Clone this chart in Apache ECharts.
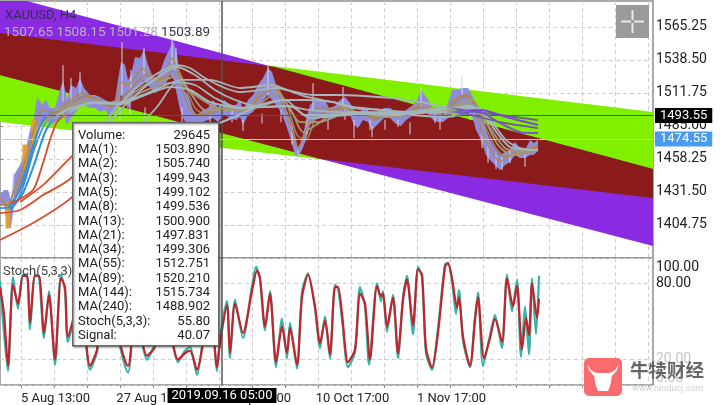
<!DOCTYPE html>
<html><head><meta charset="utf-8">
<style>html,body{margin:0;padding:0;background:#fff}#c{width:720px;height:405px}</style>
<script src="https://cdn.jsdelivr.net/npm/echarts@6/dist/echarts.min.js"></script>
</head><body><div id="c"></div>
<script>
const priceTicks=[1404.75,1431.5,1458.25,1485,1511.75,1538.5,1565.25];
const stochTicks=[0,20,80,100];
const gridBars=[21,54,87,120,153,186,219,252,285,318,351,384,417,450,483,516,549,582,615,648];
const timeBars=[54,153,252,351,450];
const timeLabels=['5 Aug 13:00','27 Aug 13:00','18 Sep 17:00','10 Oct 17:00','1 Nov 17:00'];
const cursorBar=222, cursorPrice=1493.55, lastPrice=1474.55, cursorTime='2019.09.16 05:00';

const purpleChannel=[[0,1586.3],[27,1586.3],[653,1450.1],[653,1387.7],[0,1526.3]];
const greenChannel=[[0,1560.3],[653,1496.3],[653,1426.6],[0,1488.2]];
const overlapChannel=[[0,1560.3],[274,1533.1],[653,1450.1],[653,1426.6],[321,1458.2],[0,1526.3]];

const priceBars=[0,4,8,11,14,20,26,30,34,37,42,46,50,55,60,63,67,71,76,80,84,90,95,100,105,110,115,118,121,125,128,131,135,140,144,148,152,156,160,165,170,173,177,180,184,188,193,197,203,208,213,218,224,230,236,240,243,248,253,258,263,268,272,276,281,286,291,295,298,302,306,310,315,320,325,329,335,340,345,350,354,358,363,368,372,378,384,390,396,401,406,412,417,421,427,433,438,443,448,452,456,462,468,472,476,481,486,490,495,500,505,510,515,520,525,530,534,538];
const priceHigh=[1429,1433.1,1433.1,1425,1445.2,1453.4,1467.1,1481.7,1491.4,1508.5,1502,1506.1,1499.6,1499.6,1514.2,1522.3,1506.1,1518.2,1515.8,1523.9,1515.8,1510.1,1510.1,1508.5,1506.1,1504.4,1506.1,1522.3,1536.8,1534.4,1522.3,1526.3,1540.9,1540.1,1546.6,1534.4,1526.3,1523.9,1528.7,1540.1,1548.2,1554.7,1542.5,1526.3,1514.2,1510.1,1497.9,1493.9,1497.9,1499.6,1506.1,1499.6,1506.1,1502,1502,1506.1,1497.9,1506.1,1510.1,1518.2,1523.9,1532,1528.7,1518.2,1512.5,1499.6,1489.8,1477.7,1467.1,1473.6,1489.8,1502,1506.1,1506.1,1506.1,1499.6,1501.2,1506.1,1508.5,1503.6,1497.9,1493.9,1499.6,1497.9,1491.4,1496.3,1499.6,1499.6,1496.3,1495.5,1497.9,1501.2,1506.1,1514.2,1507.7,1499.6,1499.6,1493.9,1503.6,1514.2,1514.2,1515.8,1515.8,1510.1,1502,1493.9,1481.7,1473.6,1467.1,1461.5,1463.9,1465.5,1472,1467.1,1465.5,1473.6,1471.2,1473.6];
const priceLow=[1420.9,1420.9,1402.3,1402.3,1420.9,1433.1,1441.2,1453.4,1465.5,1481.7,1489.8,1491.4,1485.8,1488.2,1491.4,1496.3,1485.8,1491.4,1496.3,1502,1502,1499.6,1499.6,1496.3,1497.9,1492.3,1496.3,1499.6,1510.1,1506.1,1497.9,1506.1,1514.2,1518.2,1522.3,1518.2,1514.2,1511.7,1518.2,1518.2,1526.3,1523.9,1510.1,1497.9,1489.8,1485.8,1485.8,1485.8,1488.2,1489.8,1491.4,1488.2,1493.9,1491.4,1489.8,1492.3,1485.8,1493.9,1496.3,1502,1506.1,1510.1,1506.1,1502,1496.3,1485.8,1473.6,1461.5,1459.8,1465.5,1473.6,1485.8,1489.8,1491.4,1493.9,1489.8,1491.4,1496.3,1497.9,1493.9,1485.8,1483.3,1489.8,1488.2,1481.7,1486.6,1491.4,1491.4,1486.6,1485,1489.8,1493.1,1495.5,1496.3,1496.3,1489.8,1488.2,1488.2,1491.4,1497.9,1499.6,1501.2,1502.8,1493.9,1481.7,1473.6,1461.5,1457.4,1453.4,1449.3,1453.4,1455.8,1461.5,1459,1459,1461.5,1461.5,1465.5];
const wickBars=[13,63,71,80,122,131,144,172,176,268,313,343,421,462,120,130,145,182,298,354,370,398,435,482,502,210,232,243,262,281,292,307,328,345,372,385,410,440,470,488,496,510,525];
const wickHigh=[1447.7,1534.4,1523.9,1528.7,1553.1,1530.4,1548.2,1556.3,1548.2,1534.4,1519.8,1516.6,1516.6,1526.3,1500,1505,1500,1500,1465.5,1490,1490,1490,1495,1480,1460,1495,1498,1490,1495,1498,1485,1490,1490,1500,1485,1490,1488,1492,1498,1470,1462,1465,1462];
const wickLow=[1425,1505,1505,1510,1510,1515,1525,1535,1530,1510,1498,1500,1500,1510,1490,1494,1492,1480,1457.4,1475.2,1481.7,1484.2,1487.4,1467.1,1449.3,1485,1488,1481,1487,1488,1470,1478,1482,1490,1476,1482,1478,1482,1490,1455,1450,1455,1452];
const upCandleBars=[8,25,34];
const upCandleHigh=[1423,1470,1490];
const upCandleLow=[1402,1450,1468];

const ma3Bars=[0,8,14,22,30,36,42,50,60,68,75,82,90,100,110,116,122,128,135,142,150,158,165,172,178,185,195,205,215,225,235,245,255,265,273,283,292,298,306,315,325,335,345,355,365,375,385,395,405,415,425,435,445,452,460,468,476,484,492,500,510,520,530,538];
const ma3=[1426.6,1420.9,1433.1,1449.3,1469.6,1488.2,1497.9,1496.3,1499.6,1504.4,1508.5,1511.7,1508.5,1504.4,1500.4,1506.1,1520.6,1518.2,1523.9,1532,1526.3,1520.6,1528.7,1540.1,1528.7,1507.7,1493.9,1493.9,1499.6,1499.6,1497.9,1496.3,1506.1,1518.2,1518.2,1502,1481.7,1467.1,1481.7,1497.9,1500.4,1496.3,1502.8,1493.9,1495.5,1489.8,1495.5,1493.1,1493.9,1500.4,1503.6,1496.3,1493.1,1504.4,1509.3,1510.1,1496.3,1475.2,1463.9,1455.8,1461.5,1464.7,1467.1,1469.6];
const ma8Bars=[0,10,18,28,38,48,60,72,85,100,112,122,132,145,155,165,175,185,195,207,220,235,250,262,275,287,297,306,316,330,345,360,375,390,405,420,435,447,456,466,476,486,496,506,520,538];
const ma8=[1420.9,1420.9,1433.1,1457.4,1481.7,1493.1,1497.9,1503.6,1509.3,1506.1,1501.2,1507.7,1515.8,1526.3,1523.9,1523.9,1534.4,1518.2,1499.6,1493.9,1497.9,1497.9,1499.6,1510.1,1515.8,1502,1477.7,1473.6,1491.4,1497.9,1499.6,1495.5,1491.4,1494.7,1493.9,1500.4,1497.9,1496.3,1504.4,1509.3,1502,1483.3,1467.1,1459.8,1463.1,1467.9];
const ma13Bars=[0,12,22,34,46,60,75,90,105,120,135,150,165,178,190,205,225,245,262,277,292,303,316,335,355,375,395,415,432,447,460,472,484,498,512,538];
const ma13=[1418.5,1419.3,1433.1,1465.5,1488.2,1496.3,1502,1506.9,1504.4,1503.6,1512.5,1520.6,1522.3,1526.3,1512.5,1497.9,1497.9,1497.9,1504.4,1512.5,1496.3,1480.1,1485.8,1495.5,1496.3,1493.1,1493.9,1497.1,1499.6,1497.9,1503.6,1506.1,1491.4,1469.6,1461.5,1465.5];
const ma21Bars=[8,20,32,42,52,65,80,100,120,140,160,178,195,215,240,262,282,300,320,345,375,400,425,450,470,488,505,522,538];
const ma21=[1418.5,1433.1,1465.5,1488.2,1496.3,1500.4,1504.4,1504.4,1502,1511.7,1518.2,1520.6,1510.1,1500.4,1497.9,1501.2,1506.1,1488.2,1488.2,1495.5,1493.9,1493.9,1497.9,1499.6,1503.6,1485.8,1467.1,1463.9,1465.5];
const ma34Bars=[10,22,34,46,58,75,95,120,145,170,190,210,240,265,290,310,335,365,395,425,455,478,495,510,538];
const ma34=[1416.9,1429,1453.4,1481.7,1493.9,1500.4,1503.6,1502.8,1510.1,1516.6,1514.2,1504.4,1499.6,1500.4,1501.2,1491.4,1493.1,1494.7,1493.9,1496.3,1499.6,1499.6,1481.7,1467.9,1465.5];
const ma55Bars=[12,33,43,57,77,93,115,135,155,175,195,215,240,265,285,305,330,360,395,425,450,470,490,506,520,538];
const ma55=[1422.5,1433.1,1455,1488.2,1499.6,1504.4,1503.6,1507.7,1514.2,1520.6,1518.2,1507.7,1499.6,1502.8,1506.1,1493.9,1493.9,1495.5,1495.5,1497.9,1499.6,1501.2,1489.8,1473.6,1467.1,1465.5];
const ma89Bars=[20,43,70,113,127,150,177,195,215,235,260,285,310,340,375,410,445,475,500,520,538];
const ma89=[1423.4,1437.1,1459,1491.4,1503.6,1519.8,1532.8,1526.3,1514.2,1506.1,1500.4,1501.2,1497.9,1496.3,1496.3,1495.5,1496.3,1497.9,1487.4,1480.1,1479.3];
const ma144Bars=[0,20,43,72,107,120,147,177,190,205,225,240,260,277,290,307,333,353,373,410,440,463,500,538];
const ma144=[1414.4,1416.9,1429,1443.6,1489.8,1503.6,1522.3,1534.4,1532,1523.9,1515.8,1512.5,1514.2,1515.8,1513.3,1508.5,1504.4,1500.4,1498.7,1496.3,1496.3,1495.5,1488.2,1483.3];
const ma240Bars=[0,33,72,145,157,180,210,240,273,287,313,340,390,420,440,463,500,538];
const ma240=[1392.6,1406.3,1427.4,1489.8,1500.4,1522.3,1522.3,1515.8,1518.2,1514.2,1510.1,1510.1,1507.7,1504.4,1501.2,1497.9,1493.9,1489.8];
const maSlowBars=[215,243,260,283,307,333,353,383,413,447,480,510,538];
const maSlow=[1485.8,1495.5,1502,1506.1,1506.1,1504.4,1499.6,1497.9,1493.9,1492.3,1497.9,1491.4,1485.8];

const stochBars=[0,3,8,13,18,23,27,30,35,39,44,49,55,61,65,68,80,90,97,105,128,135,147,155,165,178,185,190,197,203,210,217,220,227,230,235,243,252,256,260,265,270,276,282,287,290,297,302,308,315,320,325,330,335,338,342,348,355,360,365,369,377,381,383,387,393,398,403,407,413,418,422,426,432,438,445,448,452,456,459,463,470,475,478,483,490,495,502,507,512,517,521,525,529,532,536,539];
const stoch=[82,50,11,85,60,87,87,44,87,85,37,74,16,87,74,34,72,12,26,72,10,65,20,33,65,18,27,30,8,36,75,11,37,66,21,67,37,78,93,84,43,74,14,52,21,49,13,73,88,60,29,54,21,79,76,52,14,26,77,62,16,80,66,74,42,71,21,69,86,40,93,85,25,12,45,95,96,82,56,75,35,14,54,73,15,39,55,29,87,58,83,22,62,24,84,40,86];
const signalBars=[0,4,8,13,18,23,27,30,35,39,44,49,55,61,65,68,80,90,97,105,128,135,147,155,165,178,185,190,197,203,210,217,220,227,230,235,243,252,257,260,265,270,276,282,287,290,297,302,308,315,320,325,330,335,338,342,348,355,360,365,370,377,381,383,387,393,398,403,407,413,418,422,426,432,438,445,448,452,457,459,463,470,475,478,484,490,495,502,507,513,517,522,526,529,532,537,539];
const signal=[77,56,15,79,64,86,86,49,86,86,41,71,20,84,77,38,70,15,28,70,15,60,23,30,60,20,25,27,12,33,70,14,33,63,25,64,41,74,90,84,46,72,18,46,25,45,16,69,87,62,33,51,24,77,77,56,18,28,72,64,20,78,70,72,46,69,25,67,83,47,91,87,29,14,41,93,96,84,61,69,38,15,51,69,21,37,52,34,84,62,78,28,53,39,80,53,68];

const tipNames=['Volume:','MA(1):','MA(2):','MA(3):','MA(5):','MA(8):','MA(13):','MA(21):','MA(34):','MA(55):','MA(89):','MA(144):','MA(240):','Stoch(5,3,3):','Signal:'];
const tipValues=['29645','1503.890','1505.740','1499.943','1499.102','1499.536','1500.900','1497.831','1499.306','1512.751','1520.210','1515.734','1488.902','55.80','40.07'];

const FONT='Roboto, sans-serif';
const chart=echarts.init(document.getElementById('c'),null,{renderer:'canvas'});
const grad=(stops)=>new echarts.graphic.LinearGradient(0,0,653,0,
  stops.flatMap(([x,c])=>[{offset:x/653,color:c}]),true);
const colorSplit=(a,x,b,x2,c)=>{
  const s=[[0,a],[x,a],[x+12,b]];
  if(x2){s.push([x2,b],[x2+15,c]);}
  s.push([653,c||b]);
  return grad(s);
};
const BLUE='#2d8fdc',RED='#dc4a2c',GRAY='#a2b6bc',OLIVE='#a09a78',PUR='#6c55a8';
const polygon=(pts,fill,z)=>({type:'custom',coordinateSystem:'cartesian2d',xAxisIndex:0,yAxisIndex:0,z,silent:true,
  data:[pts[0]],clip:true,
  renderItem:(p,api)=>({type:'polygon',shape:{points:pts.map(v=>api.coord(v))},style:{fill}})});
const maLine=(bars,vals,color,w,z)=>({type:'line',xAxisIndex:0,yAxisIndex:0,showSymbol:false,symbol:'none',smooth:0.25,z:z||5,silent:true,
  lineStyle:{color,width:w},data:bars.map((b,i)=>[b,vals[i]])});
const vBars=(bars,hi,lo,stroke,lineWidth,z)=>({type:'custom',coordinateSystem:'cartesian2d',xAxisIndex:0,yAxisIndex:0,z,silent:true,
   data:bars.map((b,i)=>[b,hi[i],lo[i]]),encode:{x:0,y:[1,2]},
   renderItem:(p,api)=>{const a=api.coord([api.value(0),api.value(1)]),b=api.coord([api.value(0),api.value(2)]);
     return {type:'line',shape:{x1:a[0],y1:a[1],x2:b[0],y2:b[1]},style:{stroke,lineWidth}};}});
const bandPts=priceBars.map((b,i)=>[b,priceHigh[i]]).concat(priceBars.map((b,i)=>[b,priceLow[i]]).reverse());
const dashed={show:true,lineStyle:{color:'#cfcfcf',type:[4,3],width:1}};

const xBase=(gi,showLabels)=>({type:'value',gridIndex:gi,min:0,max:653,
  axisLine:{show:false},
  axisTick:{show:showLabels,length:3,lineStyle:{color:'#888'},customValues:gridBars},
  splitLine:dashed,
  axisLabel:showLabels?{show:true,customValues:timeBars,margin:7,color:'#222',fontFamily:FONT,fontSize:13,padding:[0,0,0,3],
    formatter:v=>timeLabels[timeBars.indexOf(v)]||''}:{show:false}});

const option={animation:false,backgroundColor:'#fff',
 grid:[{left:0,top:1,width:653,height:257,show:true,borderColor:'#8c8c8c',borderWidth:1.5,backgroundColor:'#fff'},
       {left:0,top:258,width:653,height:130,show:true,borderColor:'#8c8c8c',borderWidth:1.5,backgroundColor:'#fff'}],
 xAxis:[xBase(0,false),xBase(1,true)],
 yAxis:[{type:'value',gridIndex:0,position:'right',min:1378,max:1586.3,
   axisLine:{show:false},axisTick:{show:true,length:3,lineStyle:{color:'#888'},customValues:priceTicks},splitLine:dashed,
   axisLabel:{customValues:priceTicks,margin:3,color:'#222',fontFamily:FONT,fontSize:14,padding:[3,0,0,0],formatter:v=>v.toFixed(2)}},
  {type:'value',gridIndex:1,position:'right',min:0,max:100,
   axisLine:{show:false},axisTick:{show:false,customValues:stochTicks},splitLine:dashed,
   axisLabel:{customValues:stochTicks,margin:3,fontFamily:FONT,fontSize:14,padding:[2,0,0,0],showMinLabel:true,showMaxLabel:true,hideOverlap:false,formatter:v=>v.toFixed(2),
     color:v=>v<=20?'#c4c4c4':'#222',verticalAlignMinLabel:'bottom',verticalAlignMaxLabel:'top'}}],
 series:[
  polygon(greenChannel,'#80f000',1),
  polygon(purpleChannel,'#8a2be2',1),
  polygon(overlapChannel,'#8b1a1a',2),
  {type:'custom',coordinateSystem:'cartesian2d',xAxisIndex:0,yAxisIndex:0,z:3,silent:true,data:[bandPts[0]],
   renderItem:(p,api)=>({type:'polygon',shape:{points:bandPts.map(v=>api.coord(v))},style:{fill:'#8f8cdc'}})},
  vBars(wickBars,wickHigh,wickLow,'#d5d5e6',1,3),
  vBars(upCandleBars,upCandleHigh,upCandleLow,'#e0a030',5,3),
  maLine(ma3Bars,ma3,'#b08a45',1.5,4),
  maLine(ma8Bars,ma8,'#a8864a',1.5,4),
  maLine(ma13Bars,ma13,colorSplit(BLUE,38,OLIVE),1.8,4),
  maLine(ma21Bars,ma21,colorSplit(BLUE,44,OLIVE),1.8,5),
  maLine(ma34Bars,ma34,colorSplit(BLUE,48,GRAY),2,6),
  maLine(ma55Bars,ma55,colorSplit(RED,60,GRAY),1.8,6),
  maLine(ma240Bars,ma240,colorSplit(RED,90,GRAY,445,PUR),1.8,6),
  maLine(ma144Bars,ma144,colorSplit(RED,90,GRAY,445,PUR),1.8,6),
  maLine(ma89Bars,ma89,colorSplit(RED,85,GRAY,445,'#7d4fd0'),1.8,6),
  maLine(maSlowBars,maSlow,colorSplit(GRAY,440,GRAY,450,'#7a48d8'),2,6),
  {type:'line',xAxisIndex:0,yAxisIndex:0,data:[],z:8,silent:true,
   markLine:{silent:true,symbol:'none',animation:false,
    data:[
     {xAxis:cursorBar,lineStyle:{color:'#555',width:1.5,type:'solid'},label:{show:false}},
     {yAxis:lastPrice,lineStyle:{color:'#a9d4f5',width:1,type:'solid'},
      label:{show:true,position:'end',distance:2,formatter:lastPrice.toFixed(2),color:'#fff',backgroundColor:'#4a9bf0',fontFamily:FONT,fontSize:13,padding:[2,5,0,5]}},
     {yAxis:cursorPrice,lineStyle:{color:'#555',width:1,type:'solid'},
      label:{show:true,position:'end',distance:2,formatter:cursorPrice.toFixed(2),color:'#fff',backgroundColor:'#000',fontFamily:FONT,fontSize:13,padding:[2,5,0,5]}}
    ]}},
  {type:'line',xAxisIndex:1,yAxisIndex:1,showSymbol:false,symbol:'none',smooth:0.25,z:3,silent:true,
   lineStyle:{color:'#35b3a8',width:2.2},data:stochBars.map((b,i)=>[b,stoch[i]])},
  {type:'line',xAxisIndex:1,yAxisIndex:1,showSymbol:false,symbol:'none',smooth:0.25,z:4,silent:true,
   lineStyle:{color:'#c4232b',width:2.2},data:signalBars.map((b,i)=>[b,signal[i]])},
  {type:'line',xAxisIndex:1,yAxisIndex:1,data:[],z:8,silent:true,
   markLine:{silent:true,symbol:'none',animation:false,
    data:[{xAxis:cursorBar,lineStyle:{color:'#555',width:1.5,type:'solid'},
      label:{show:true,position:'start',distance:3,formatter:cursorTime,color:'#fff',backgroundColor:'#000',fontFamily:FONT,fontSize:13,padding:[1,4,1,4]}}]}}
 ],
 graphic:{elements:[
  {type:'text',z:50,left:5,top:9,style:{text:'XAUUSD, H4',fill:'#3a2a55',font:'13px '+FONT}},
  {type:'text',z:50,left:4,top:26,style:{text:'1507.65 1508.15 1501.28',fill:'#b9b2ba',font:'13.5px '+FONT}},
  {type:'text',z:50,left:161,top:26,style:{text:'1503.89',fill:'#3b3346',font:'13.5px '+FONT}},
  {type:'text',z:50,left:3,top:265,style:{text:'Stoch(5,3,3)',fill:'#444',font:'13px '+FONT}},
  {type:'group',z:60,left:616,top:5,children:[
    {type:'rect',z:60,shape:{x:0,y:0,width:33,height:33},style:{fill:'#9a9a9a'}},
    {type:'rect',z:61,shape:{x:5,y:15.5,width:10,height:2},style:{fill:'#e8e8e8'}},
    {type:'rect',z:61,shape:{x:18,y:15.5,width:10,height:2},style:{fill:'#e8e8e8'}},
    {type:'rect',z:61,shape:{x:15.5,y:5,width:2,height:10},style:{fill:'#e8e8e8'}},
    {type:'rect',z:61,shape:{x:15.5,y:18,width:2,height:10},style:{fill:'#e8e8e8'}}
  ]},
  {type:'rect',z:70,left:72,top:122,shape:{width:146,height:223},
   style:{fill:'#fff',stroke:'#666',lineWidth:1.5,shadowBlur:2,shadowColor:'rgba(0,0,0,0.35)',shadowOffsetX:1,shadowOffsetY:1}},
  ...tipNames.map((t,i)=>({type:'text',z:71,left:78,top:129+i*14.3,style:{text:t,fill:'#222',font:'13px '+FONT}})),
  ...tipValues.map((t,i)=>({type:'text',z:71,right:720-210,top:129+i*14.3,style:{text:t,fill:'#222',font:'13px '+FONT}})),
  {type:'group',z:80,left:584,top:358,children:[
    {type:'rect',z:80,shape:{x:0,y:0,width:38,height:38,r:5},style:{fill:'#fb6b6e'}},
    {type:'polygon',z:81,shape:{points:[[3,6],[5,12],[9,17],[13,19],[25,19],[29,17],[33,12],[35,6],[32,11],[28,14],[25,15],[13,15],[10,14],[6,11]]},style:{fill:'#fff'}},
    {type:'polygon',z:81,shape:{points:[[10,16],[28,16],[27,24],[26,28],[24,33],[14,33],[12,28],[11,24]]},style:{fill:'#fff'}}
  ]},
  {type:'text',z:80,left:630,top:361,style:{text:'牛犊财经',fill:'#666',font:'bold 18.5px "Noto Sans CJK SC"'}},
  {type:'text',z:80,left:632,top:384,style:{text:'www.niuducj.com',fill:'#cfcfcf',font:'9px '+FONT}}
 ]}
};
chart.setOption(option);
</script></body></html>
